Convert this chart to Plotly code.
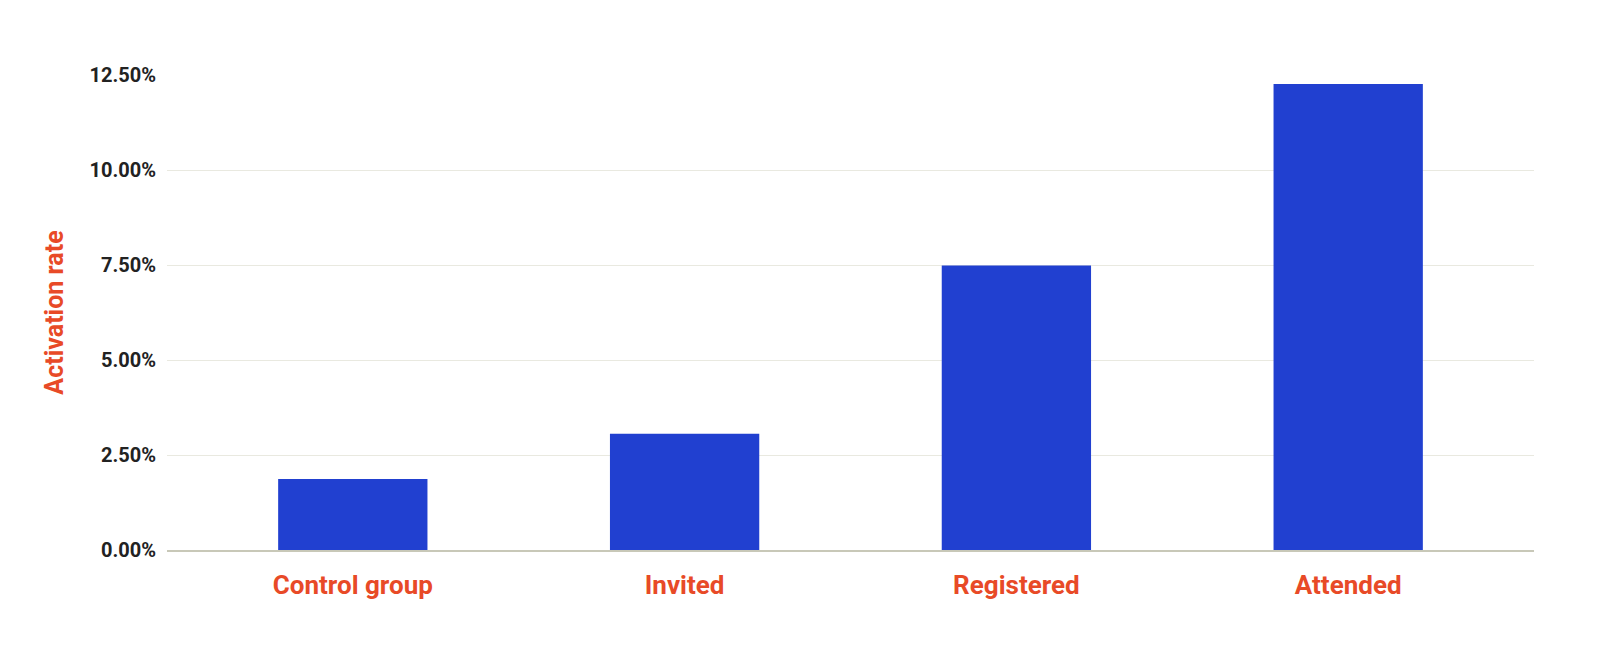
import plotly.graph_objects as go

# data
groups = ["Control group", "Invited", "Registered", "Attended"]
activation_rate = [1.87, 3.06, 7.49, 12.26]   # percent
y_ticks = [0, 2.5, 5, 7.5, 10, 12.5]
y_tick_labels = ["%.2f%%" % v for v in y_ticks]

orange = "#E84A27"
font_family = "Roboto, Liberation Sans, Arial, sans-serif"

fig = go.Figure()
fig.add_trace(go.Bar(
    x=groups,
    y=activation_rate,
    marker=dict(color="#2140D0", line=dict(width=0)),
    width=0.45,
))

fig.update_layout(
    width=1600, height=654,
    margin=dict(l=159, r=74, t=67, b=112),
    paper_bgcolor="white",
    plot_bgcolor="white",
    showlegend=False,
    font=dict(family=font_family),
)

fig.update_xaxes(
    range=[-0.56, 3.56],
    showline=True, linecolor="#C8C8B8", linewidth=1.5,
    showgrid=False,
    tickfont=dict(size=26, color=orange, family=font_family, weight="bold"),
    ticklabelstandoff=11,
)

fig.update_yaxes(
    range=[0, 12.5],
    tickvals=y_ticks,
    ticktext=y_tick_labels,
    showgrid=True, gridcolor="#E9E9E0", gridwidth=1,
    zeroline=False,
    tickfont=dict(size=20, color="#222222", family=font_family, weight="bold"),
    ticklabelstandoff=10,
    title=dict(text="Activation rate", standoff=18,
               font=dict(size=25, color=orange, family=font_family, weight="bold")),
)

fig.write_html("out.html")
